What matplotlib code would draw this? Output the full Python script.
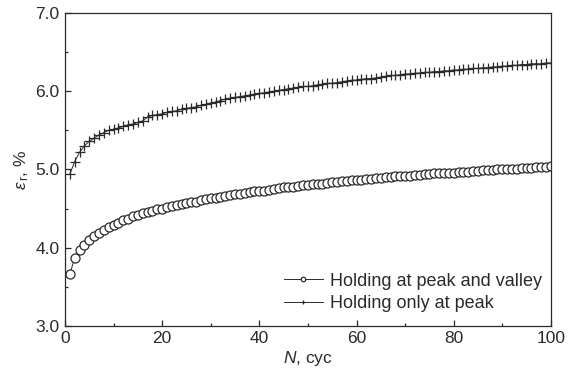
import numpy as np
import matplotlib
matplotlib.use('Agg')
from matplotlib import pyplot as plt

# cycle number
cycles = list(range(1, 101))

# ratcheting strain, holding at peak and valley (open circles)
strain_peak_valley = [
    3.66, 3.87, 3.97, 4.04, 4.10, 4.15, 4.19, 4.23, 4.26, 4.29,
    4.32, 4.35, 4.37, 4.40, 4.42, 4.44, 4.46, 4.47, 4.49, 4.50,
    4.52, 4.53, 4.55, 4.56, 4.57, 4.58, 4.59, 4.61, 4.62, 4.63,
    4.64, 4.65, 4.66, 4.67, 4.68, 4.69, 4.70, 4.71, 4.72, 4.73,
    4.73, 4.74, 4.75, 4.76, 4.77, 4.77, 4.78, 4.79, 4.80, 4.80,
    4.81, 4.82, 4.82, 4.83, 4.84, 4.84, 4.85, 4.85, 4.86, 4.87,
    4.87, 4.88, 4.88, 4.89, 4.89, 4.90, 4.90, 4.91, 4.91, 4.92,
    4.92, 4.93, 4.93, 4.94, 4.94, 4.95, 4.95, 4.95, 4.96, 4.96,
    4.97, 4.97, 4.97, 4.98, 4.98, 4.99, 4.99, 4.99, 5.00, 5.00,
    5.00, 5.01, 5.01, 5.02, 5.02, 5.02, 5.03, 5.03, 5.03, 5.04,
]

# ratcheting strain, holding only at peak (plus markers)
strain_peak = [
    4.94, 5.10, 5.22, 5.30, 5.36, 5.40, 5.44, 5.47, 5.50, 5.51,
    5.53, 5.55, 5.57, 5.58, 5.60, 5.62, 5.67, 5.69, 5.70, 5.71,
    5.73, 5.74, 5.75, 5.77, 5.78, 5.79, 5.80, 5.82, 5.83, 5.85,
    5.86, 5.88, 5.90, 5.91, 5.92, 5.93, 5.94, 5.95, 5.96, 5.97,
    5.98, 5.99, 6.00, 6.01, 6.02, 6.03, 6.04, 6.05, 6.06, 6.06,
    6.07, 6.08, 6.09, 6.10, 6.10, 6.11, 6.12, 6.13, 6.14, 6.14,
    6.15, 6.16, 6.16, 6.17, 6.18, 6.19, 6.20, 6.20, 6.21, 6.22,
    6.22, 6.23, 6.23, 6.24, 6.24, 6.25, 6.25, 6.26, 6.26, 6.27,
    6.27, 6.28, 6.28, 6.29, 6.29, 6.30, 6.30, 6.31, 6.31, 6.32,
    6.32, 6.33, 6.33, 6.34, 6.34, 6.35, 6.35, 6.35, 6.36, 6.36,
]

label_pv = 'Holding at peak and valley'
label_p = 'Holding only at peak'

xticks = [0, 20, 40, 60, 80, 100]
yticks = [3.0, 4.0, 5.0, 6.0, 7.0]


def main():
    plt.rcParams['font.family'] = ['Liberation Sans', 'DejaVu Sans']
    plt.rcParams['mathtext.fontset'] = 'custom'
    plt.rcParams['mathtext.rm'] = 'Liberation Sans'
    plt.rcParams['mathtext.it'] = 'Liberation Sans:italic'

    ink = '#2a2a2a'
    fig = plt.figure(figsize=(5.75, 3.79), dpi=100)
    ax = fig.add_axes([0.113, 0.140, 0.845, 0.826])

    ax.plot(cycles, strain_peak_valley, color=ink, lw=0.7, marker='o',
            ms=6.5, mfc='white', mec=ink, mew=0.9, label=label_pv)
    ax.plot(cycles, strain_peak, color=ink, lw=0.7, marker='+',
            ms=7, mec=ink, mew=0.9, label=label_p)

    ax.set_xlim(0, 100)
    ax.set_ylim(3.0, 7.0)
    ax.set_xticks(xticks)
    ax.set_xticks(np.arange(10, 100, 20), minor=True)
    ax.set_yticks(yticks)
    ax.set_yticks(np.arange(3.5, 7.0, 1.0), minor=True)
    ax.set_yticklabels(['%.1f' % v for v in yticks])
    ax.tick_params(which='both', direction='in', top=False, right=False,
                   colors=ink, labelsize=12.5, labelcolor=ink)
    ax.tick_params(which='major', length=4, width=0.9, pad=4)
    ax.tick_params(which='minor', length=2.5, width=0.9)
    for s in ax.spines.values():
        s.set_color(ink)
        s.set_linewidth(0.9)

    ax.set_xlabel(r'$N$, cyc', fontsize=12.5, color=ink, labelpad=2)
    ax.set_ylabel(r'$\varepsilon_{\,\rm r}$, %', fontsize=12.5, color=ink, labelpad=3)

    leg = ax.legend(loc='lower right', bbox_to_anchor=(1.005, 0.01), frameon=False,
                    fontsize=13, markerscale=0.5, handlelength=2.2,
                    handletextpad=0.4, labelspacing=0.3, borderaxespad=0.2)
    for t in leg.get_texts():
        t.set_color(ink)

    fig.savefig('out.png', dpi=100)


if __name__ == '__main__':
    main()
